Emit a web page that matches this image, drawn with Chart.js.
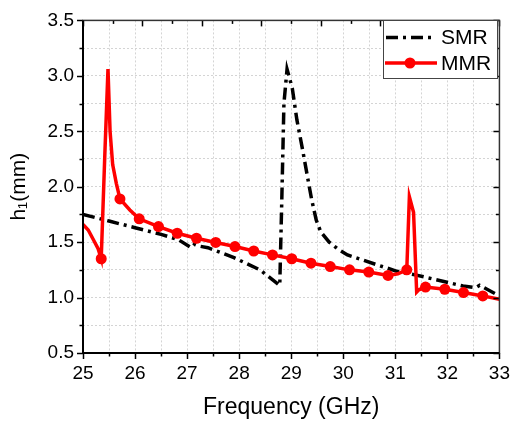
<!DOCTYPE html>
<html>
<head>
<meta charset="utf-8">
<script src="https://cdn.jsdelivr.net/npm/chart.js@4.4.1/dist/chart.umd.min.js"></script>
<style>
  html, body { margin: 0; padding: 0; background: #fff; }
  #wrap { width: 519px; height: 424px; }
</style>
</head>
<body>
<div id="wrap"><canvas id="c" width="519" height="424"></canvas></div>
<script>
// ---- data ----
const xTitle = 'Frequency (GHz)';
const yTitle = 'h\u2081(mm)';
const seriesNames = ['SMR', 'MMR'];

const smrFreq = [25, 25.5, 26, 26.5, 26.84, 27.08, 27.14, 27.22, 27.4, 27.9, 28.4, 28.78, 28.82, 28.86, 28.92, 29.02, 29.11, 29.22, 29.32, 29.39, 29.48, 29.57, 29.73, 29.89, 30.08, 30.62, 31.03, 31.38, 31.76, 32.3, 32.55, 32.62, 32.7, 32.94, 33];
const smrH    = [1.75, 1.69, 1.63, 1.57, 1.52, 1.45, 1.48, 1.465, 1.45, 1.36, 1.25, 1.11, 1.9, 2.75, 3.06, 2.89, 2.60, 2.33, 2.07, 1.89, 1.70, 1.59, 1.50, 1.44, 1.385, 1.30, 1.237, 1.205, 1.164, 1.104, 1.09, 1.11, 1.09, 1.03, 1.015];

const mmrFreq = [25, 25.1, 25.19, 25.29, 25.35, 25.42, 25.48, 25.52, 25.57, 25.64, 25.71, 25.9, 26.08, 26.45, 26.81, 27.18, 27.55, 27.92, 28.28, 28.64, 29.01, 29.38, 29.75, 30.12, 30.49, 30.86, 31.05, 31.22, 31.27, 31.35, 31.41, 31.45, 31.58, 31.95, 32.31, 32.68, 33];
const mmrH    = [1.66, 1.61, 1.53, 1.44, 1.35, 2.3, 3.06, 2.5, 2.2, 2.03, 1.89, 1.79, 1.71, 1.64, 1.58, 1.535, 1.497, 1.46, 1.42, 1.385, 1.35, 1.31, 1.28, 1.25, 1.23, 1.20, 1.215, 1.25, 1.91, 1.77, 1.05, 1.07, 1.095, 1.075, 1.045, 1.015, 0.985];
const mmrMarkerFreq = [25.35, 25.71, 26.08, 26.45, 26.81, 27.18, 27.55, 27.92, 28.28, 28.64, 29.01, 29.38, 29.75, 30.12, 30.49, 30.86, 31.22, 31.58, 31.95, 32.31, 32.68];

const xMin = 25, xMax = 33, xStep = 0.5;
const yMin = 0.5, yMax = 3.5, yStep = 0.25;

// ---- chart ----
const FONT = "'Liberation Sans', Arial, sans-serif";
const toPts = (xs, ys) => xs.map((x, i) => ({x: x, y: ys[i]}));

const framePlugin = {
  id: 'frame',
  afterDatasetsDraw(chart) {
    const ctx = chart.ctx;
    const a = chart.chartArea;
    const xs = chart.scales.x, ys = chart.scales.y;
    ctx.save();
    ctx.strokeStyle = '#000';
    ctx.lineWidth = 1.5;
    ctx.lineCap = 'butt';
    // bottom ticks (outward)
    for (let v = xMin; v <= xMax + 1e-9; v += xStep) {
      const px = Math.round(xs.getPixelForValue(v)) + 0.5;
      const len = Math.abs(v - Math.round(v)) < 1e-6 ? 6 : 3.5;
      ctx.beginPath(); ctx.moveTo(px, a.bottom); ctx.lineTo(px, a.bottom + len); ctx.stroke();
    }
    // left ticks (outward) and right ticks (inward)
    for (let v = yMin; v <= yMax + 1e-9; v += yStep) {
      const py = Math.round(ys.getPixelForValue(v)) + 0.5;
      const major = Math.abs(v * 2 - Math.round(v * 2)) < 1e-6;
      const len = major ? 6 : 3.5;
      ctx.beginPath(); ctx.moveTo(a.left, py); ctx.lineTo(a.left - len, py); ctx.stroke();
      ctx.beginPath(); ctx.moveTo(a.right, py); ctx.lineTo(a.right - len, py); ctx.stroke();
    }
    // top ticks (inward), separate spacing as in the reference
    const nTop = 14;
    for (let k = 0; k <= nTop; k++) {
      const px = Math.round(a.left + k * (a.right - a.left) / nTop) + 0.5;
      const len = k % 2 === 0 ? 6 : 3.5;
      ctx.beginPath(); ctx.moveTo(px, a.top); ctx.lineTo(px, a.top + len); ctx.stroke();
    }
    // frame
    ctx.strokeStyle = '#333';
    ctx.lineWidth = 1.5;
    ctx.strokeRect(a.left, a.top, a.right - a.left, a.bottom - a.top);
    ctx.strokeStyle = '#000';
    ctx.lineWidth = 2;
    ctx.beginPath();
    ctx.moveTo(a.left, a.top); ctx.lineTo(a.left, a.bottom); ctx.lineTo(a.right, a.bottom);
    ctx.stroke();

    // legend
    const lx = 383, ly = 20, lw = 114, lh = 58;
    ctx.fillStyle = '#fff';
    ctx.fillRect(lx, ly, lw, lh);
    ctx.strokeStyle = '#444';
    ctx.lineWidth = 1;
    ctx.strokeRect(lx + 0.5, ly + 0.5, lw, lh);
    const dsS = chart.data.datasets[0], dsM = chart.data.datasets[1];
    // SMR
    let yy = 37.5;
    ctx.strokeStyle = dsS.borderColor;
    ctx.lineWidth = dsS.borderWidth;
    ctx.setLineDash(dsS.borderDash);
    ctx.beginPath(); ctx.moveTo(386, yy); ctx.lineTo(434, yy); ctx.stroke();
    ctx.setLineDash([]);
    ctx.fillStyle = '#000';
    ctx.font = '21px ' + FONT;
    ctx.textBaseline = 'middle';
    ctx.textAlign = 'left';
    ctx.fillText(dsS.label, 441, yy + 1);
    // MMR
    yy = 63;
    ctx.strokeStyle = dsM.borderColor;
    ctx.lineWidth = dsM.borderWidth;
    ctx.beginPath(); ctx.moveTo(385, yy); ctx.lineTo(437, yy); ctx.stroke();
    ctx.fillStyle = dsM.borderColor;
    ctx.beginPath(); ctx.arc(410, yy, 5.5, 0, Math.PI * 2); ctx.fill();
    ctx.fillStyle = '#000';
    ctx.fillText(dsM.label, 441, yy + 1);
    ctx.restore();
  }
};

new Chart(document.getElementById('c'), {
  type: 'line',
  data: {
    datasets: [
      {
        label: seriesNames[0],
        data: toPts(smrFreq, smrH),
        borderColor: '#000000',
        borderWidth: 3.5,
        borderDash: [12, 5, 3, 5],
        pointRadius: 0,
        tension: 0,
        fill: false,
        order: 1
      },
      {
        label: seriesNames[1],
        data: toPts(mmrFreq, mmrH),
        borderColor: '#ff0000',
        backgroundColor: '#ff0000',
        borderWidth: 3.5,
        pointRadius: (c) => mmrMarkerFreq.includes(mmrFreq[c.dataIndex]) ? 5.5 : 0,
        pointBorderWidth: 0,
        pointBackgroundColor: '#ff0000',
        tension: 0,
        fill: false,
        order: 0
      }
    ]
  },
  options: {
    responsive: false,
    animation: false,
    devicePixelRatio: 1,
    layout: { padding: { top: 15, right: 16, left: 0, bottom: 0 } },
    plugins: { legend: { display: false }, tooltip: { enabled: false } },
    scales: {
      x: {
        type: 'linear',
        min: xMin, max: xMax,
        afterFit: (s) => { s.height = 71; },
        ticks: {
          stepSize: xStep,
          autoSkip: false,
          maxRotation: 0,
          padding: 9,
          color: '#000',
          font: { family: FONT, size: 19 },
          callback: (v) => Math.abs(v - Math.round(v)) < 1e-6 ? String(Math.round(v)) : ''
        },
        grid: { color: '#d4d4d4', lineWidth: 1, drawTicks: false },
        border: { display: false, dash: [2, 2] },
        title: {
          display: true, text: xTitle, color: '#000',
          font: { family: FONT, size: 23 },
          padding: { top: 0, bottom: 3 }
        }
      },
      y: {
        type: 'linear',
        min: yMin, max: yMax,
        afterFit: (s) => { s.width = 83; },
        ticks: {
          stepSize: yStep,
          autoSkip: false,
          padding: 9,
          color: '#000',
          font: { family: FONT, size: 19 },
          callback: (v) => Math.abs(v * 2 - Math.round(v * 2)) < 1e-6 ? v.toFixed(1) : ''
        },
        grid: { color: '#d4d4d4', lineWidth: 1, drawTicks: false },
        border: { display: false, dash: [2, 2] },
        title: {
          display: true, text: yTitle, color: '#000',
          font: { family: FONT, size: 21 },
          padding: { top: 7, bottom: 0 }
        }
      }
    }
  },
  plugins: [framePlugin]
});
</script>
</body>
</html>
